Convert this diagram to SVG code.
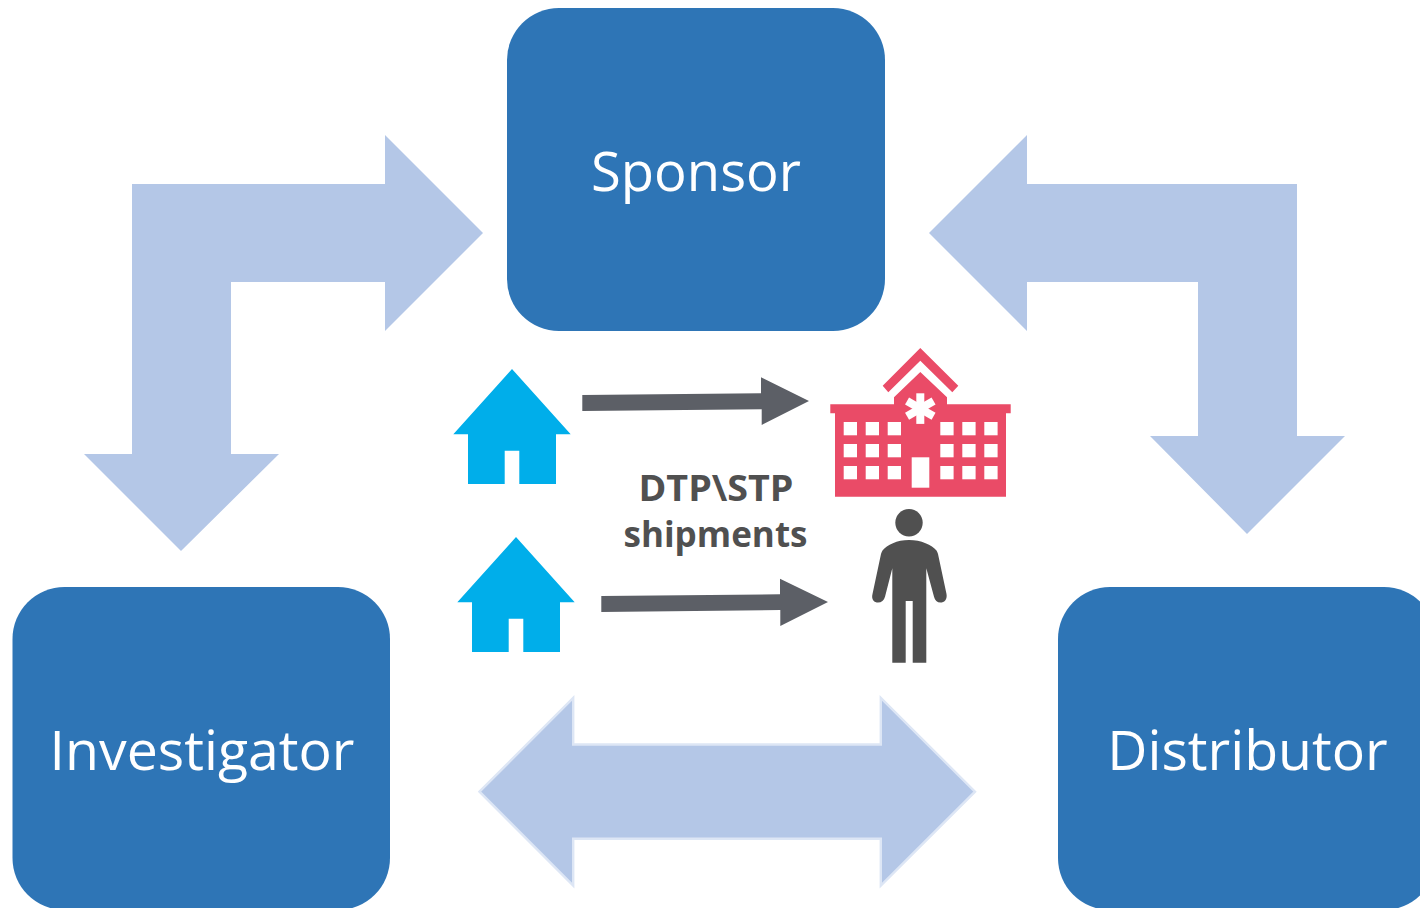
<svg xmlns="http://www.w3.org/2000/svg" width="1420" height="908" viewBox="0 0 1420 908">
<style>
.box{fill:#2e75b6}
.big{fill:#b4c7e7}
.lbl{font-family:"Open Sans","Noto Sans",sans-serif;font-size:55.4px;fill:#fff;text-anchor:middle}
.cap{font-family:"Open Sans","Noto Sans",sans-serif;font-size:36px;font-weight:700;fill:#505050;text-anchor:middle}
.dark{fill:#5c5f66}
.house{fill:#00aeea}
.hosp{fill:#ea4b67}
.w{fill:#fff}
</style>
<defs>
<path id="house" d="M512 369L453.3 434.3H468V484H504.7V450.7H519.3V484H556V434.3H570.7Z"/>
</defs>
<rect width="1420" height="908" fill="#fff"/>
<g id="connectors">
<path id="c-sponsor-investigator" class="big" d="M385 135L483 233L385 331V282H231V454H279L181 551L84 454H132V184H385Z"/>
<path id="c-sponsor-distributor" class="big" d="M1027 135L929 233L1027 331V282H1198V436H1150L1247 534L1345 436H1297V184H1027Z"/>
<path id="c-investigator-distributor" class="big" stroke="#dde6f5" stroke-width="2.4" d="M479.5 791.7L573.2 698V744.5H880.8V698L975 791.7L880.8 885.5V838.8H573.2V885.5Z"/>
<path id="c-ship-1" class="dark" d="M582.3 395L761 393.3V377.3L809 401L761.7 425V409.3L582.3 411Z"/>
<path id="c-ship-2" class="dark" d="M601.3 596L780 594.3V578.7L828 602L780.3 626V610L601.3 612Z"/>
</g>
<g id="sponsor"><rect class="box" x="507" y="8" width="378" height="323" rx="52"/><text class="lbl" x="696" y="190.5" textLength="210" lengthAdjust="spacingAndGlyphs">Sponsor</text></g>
<g id="investigator"><rect class="box" x="12.5" y="587" width="377.5" height="323" rx="52"/><text class="lbl" x="202" y="769.5">Investigator</text></g>
<g id="distributor"><rect class="box" x="1058" y="587" width="378" height="323" rx="52"/><text class="lbl" x="1247.5" y="769.5">Distributor</text></g>
<g id="home-1" class="house"><use href="#house"/></g>
<g id="home-2" class="house"><use href="#house" x="4" y="168"/></g>
<g id="caption"><text class="cap" x="716" y="501" textLength="155" lengthAdjust="spacingAndGlyphs">DTP\STP</text><text class="cap" x="715.5" y="547" textLength="184" lengthAdjust="spacingAndGlyphs">shipments</text></g>
<g id="hospital">
<path class="hosp" d="M920.3 348L958.3 385.7L952.3 392.3L920.3 360.7L888.3 392.3L882.7 385.7Z"/>
<path class="hosp" d="M920.3 372L894 397.3V404.3H830.3V413.3H835V496.7H1006V413.3H1010.7V404.3H947V397.3Z"/>
<g class="w">
<rect x="843.7" y="422" width="13.3" height="13.3"/><rect x="865.7" y="422" width="13.3" height="13.3"/><rect x="887.7" y="422" width="13.3" height="13.3"/>
<rect x="940.3" y="422" width="13.3" height="13.3"/><rect x="962.3" y="422" width="13.3" height="13.3"/><rect x="984.3" y="422" width="13.3" height="13.3"/>
<rect x="843.7" y="444" width="13.3" height="13.3"/><rect x="865.7" y="444" width="13.3" height="13.3"/><rect x="887.7" y="444" width="13.3" height="13.3"/>
<rect x="940.3" y="444" width="13.3" height="13.3"/><rect x="962.3" y="444" width="13.3" height="13.3"/><rect x="984.3" y="444" width="13.3" height="13.3"/>
<rect x="843.7" y="466" width="13.3" height="13.3"/><rect x="865.7" y="466" width="13.3" height="13.3"/><rect x="887.7" y="466" width="13.3" height="13.3"/>
<rect x="940.3" y="466" width="13.3" height="13.3"/><rect x="962.3" y="466" width="13.3" height="13.3"/><rect x="984.3" y="466" width="13.3" height="13.3"/>
<rect x="911.7" y="457.3" width="17.6" height="30.4"/>
<rect x="916.3" y="393.3" width="8" height="30.6"/>
<rect x="916.3" y="393.3" width="8" height="30.6" transform="rotate(60 920.3 408.6)"/>
<rect x="916.3" y="393.3" width="8" height="30.6" transform="rotate(120 920.3 408.6)"/>
</g>
</g>
<g id="patient" fill="#505050">
<circle cx="909" cy="522.7" r="13.7"/>
<path d="M909 540C897 540 887 545 882.5 550.5Q881.5 552 881 554L872.5 594C871 600 874.5 602.5 878 602.5C881.5 602.5 884 600.5 885 596.7L892.3 568.3V662.7H905.7V601H912.7V662.7H926.3V568.3L934 596.7C935 600.5 937 602.5 940.5 602.5C944 602.5 947.5 600 946.5 594L938 554Q937.5 552 936.5 550.5C932 545 921 540 909 540Z"/>
</g>
</svg>
